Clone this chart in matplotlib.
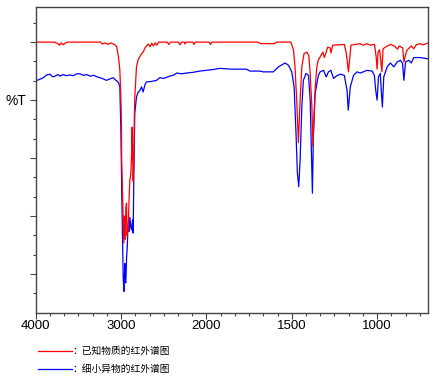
import numpy as np
import matplotlib
matplotlib.use("Agg")
import matplotlib.pyplot as plt
from matplotlib.ticker import FixedLocator

# wavenumber (cm-1) / %T
red_wn = [4000, 3780, 3740, 3720, 3700, 3680, 3650, 3620, 3240, 3220, 3190, 3150, 3120,
          3090, 3065, 3050, 3030, 3014, 3002, 2995, 2993, 2982, 2975, 2968, 2960, 2952,
          2944, 2936, 2930, 2922, 2917, 2905, 2897, 2885, 2875, 2870, 2864, 2858, 2850,
          2845, 2839, 2819, 2800, 2780, 2760, 2741, 2720, 2702, 2680, 2660, 2640, 2620,
          2600, 2580, 2560, 2460, 2440, 2420, 2330, 2310, 2290, 2260, 2250, 2240, 2160,
          2145, 2130, 1985, 1976, 1968, 1700, 1680, 1600, 1590, 1505, 1490, 1481, 1471,
          1461, 1451, 1441, 1428, 1412, 1400, 1392, 1382, 1376, 1363, 1353, 1345, 1328,
          1318, 1309, 1289, 1275, 1270, 1260, 1192, 1180, 1168, 1160, 1153, 1100, 1080,
          1060, 1040, 1015, 1005, 1000, 994, 985, 978, 972, 965, 940, 920, 900, 880, 870,
          850, 843, 833, 825, 800, 785, 770, 750, 730, 700]
red_t = [70, 70, 69.6, 69.2, 69.8, 69.3, 69.8, 70, 70, 69.5, 69.8, 69.4, 69.8,
         69.5, 69.2, 68.7, 66.1, 62.7, 55.8, 48, 40, 30, 24, 18, 25, 19,
         27, 28.3, 20, 22, 21.4, 30, 34.3, 36, 42, 48, 40, 34, 40,
         50, 55.8, 63.6, 65.5, 66.2, 67, 67.4, 68.5, 69, 69.5, 68.8, 69.7, 69,
         69.8, 69.2, 70, 70, 69.4, 70, 70, 69.3, 70, 70, 69.5, 70, 70,
         69.4, 70, 70, 69.4, 70, 70, 69.6, 69.6, 70, 70, 68, 63.6, 55,
         44, 55, 63.6, 67, 67.4, 66.5, 61.9, 53.2, 43, 58, 63.6, 65.3, 66.6,
         67.4, 66, 68.7, 68.5, 67.2, 69.2, 69.4, 67, 62.3, 66, 69.2, 69.6, 69.2,
         69.6, 69.2, 69.4, 66, 63, 67.5, 68, 65, 62.3, 68.3, 69, 69.4, 69, 68.2, 69,
         68.5, 64.9, 66.8, 67.9, 69, 68.3, 69.3, 69.6, 69.3, 69.8]

blue_wn = [4000, 3960, 3911, 3870, 3833, 3800, 3774, 3740, 3716, 3680, 3640, 3599, 3560,
           3520, 3482, 3440, 3400, 3365, 3320, 3280, 3248, 3210, 3170, 3130, 3092, 3070,
           3053, 3030, 3014, 3002, 2991, 2982, 2975, 2967, 2956, 2950, 2944, 2936, 2929,
           2917, 2905, 2897, 2885, 2877, 2865, 2858, 2850, 2839, 2819, 2800, 2780, 2760,
           2741, 2720, 2702, 2650, 2585, 2546, 2500, 2429, 2380, 2346, 2290, 2234, 2150,
           2078, 2000, 1961, 1922, 1850, 1765, 1745, 1686, 1666, 1608, 1578, 1539, 1519,
           1500, 1486, 1475, 1467, 1459, 1451, 1441, 1432, 1416, 1402, 1392, 1385, 1379,
           1373, 1363, 1344, 1334, 1314, 1298, 1285, 1271, 1255, 1239, 1216, 1192, 1176,
           1169, 1157, 1138, 1118, 1098, 1059, 1029, 1016, 1008, 1000, 992, 981, 975, 969,
           961, 941, 922, 902, 882, 863, 851, 843, 833, 814, 800, 785, 746, 706, 700]
blue_t = [60, 60.3, 60.8, 61.5, 61.7, 61, 61.2, 61.6, 61.2, 61.6, 61.3, 61.5, 61.3,
          61.8, 61.8, 61.4, 61.6, 61.2, 61.4, 61, 60.8, 60.5, 60.1, 60.5, 60.8, 60.3,
          60, 59.5, 58.4, 47.2, 29.9, 18, 9.3, 5.5, 12.7, 8, 7.7, 14, 16.2,
          23.2, 21, 24.7, 22, 21.4, 24, 20.6, 36, 51.6, 55.8, 57, 57.5, 58.4,
          57.1, 59, 59.7, 59.8, 60.1, 60.8, 60.6, 61.2, 61.5, 62, 61.8, 62, 62.2,
          62.5, 62.7, 62.9, 63.2, 63, 63, 62.5, 62.5, 62.3, 62.3, 63.6, 64.6, 64,
          62.3, 58.4, 46.4, 36.1, 32.6, 39.5, 53.2, 60.1, 61.9, 61.4, 55, 42, 30.9,
          46.4, 56.7, 61.4, 62.3, 62.7, 61, 62.3, 62.7, 60.6, 61.2, 61.7, 61.4, 57.5,
          52.4, 58.4, 61.4, 62.3, 62, 62.7, 62.5, 61.4, 57.5, 55, 61, 61.9, 57, 53.2,
          61, 63.6, 64.6, 63.6, 64.9, 65.3, 64.5, 60.1, 64.9, 65.3, 64.6, 66, 66, 65.7, 65.8]

labels = ["：已知物质的红外谱图", "：细小异物的红外谱图"]


# below 2000 cm-1 the axis is stretched twice
def fwd(w):
    w = np.asarray(w, dtype=float)
    return np.where(w >= 2000, w, 2 * w - 2000)


def inv(u):
    u = np.asarray(u, dtype=float)
    return np.where(u >= 2000, u, (u + 2000) / 2)


fig = plt.figure(figsize=(4.37, 3.83), dpi=100)
ax = fig.add_axes([0.0817, 0.1836, 0.8984, 0.7973])

l2, = ax.plot(blue_wn, blue_t, color="#0000ff", lw=0.9)
l1, = ax.plot(red_wn, red_t, color="#ff0000", lw=0.9)

ax.set_xscale("function", functions=(fwd, inv))
ax.set_xlim(4000, 700)
ax.set_ylim(0, 79)

ax.xaxis.set_major_locator(FixedLocator([4000, 3000, 2000, 1500, 1000]))
minors = list(np.arange(4000, 2000, -1000 / 6)) + list(np.arange(2000, 740, -500 / 6))
ax.xaxis.set_minor_locator(FixedLocator(minors))
ax.set_xticklabels(["4000", "3000", "2000", "1500", "1000"])

ax.yaxis.set_major_locator(FixedLocator([10, 25, 40, 55, 70]))
ax.yaxis.set_minor_locator(FixedLocator(np.arange(5, 79, 5)))
ax.set_yticklabels([])

for s in ax.spines.values():
    s.set_color("#444444")
    s.set_linewidth(1.0)
ax.tick_params(which="major", direction="out", length=4.5, width=0.8, color="#444444",
               pad=1, labelsize=9.5)
ax.tick_params(which="minor", direction="out", length=2.2, width=0.8, color="#444444")
for t in ax.get_xticklabels():
    t.set_family(["Liberation Sans", "DejaVu Sans"])

fig.text(16 / 437, 1 - 101 / 383, "%T", ha="center", va="center", fontsize=10,
         family=["Liberation Sans", "DejaVu Sans"])

fig.legend([l1, l2], labels, loc="upper left", bbox_to_anchor=(38 / 437, 1 - 346 / 383),
           frameon=False, handlelength=3.5, handletextpad=0.0, labelspacing=0.85,
           borderaxespad=0, borderpad=0,
           prop={"family": ["Noto Sans CJK SC", "DejaVu Sans"], "size": 7})

fig.savefig("out.png", dpi=100)
